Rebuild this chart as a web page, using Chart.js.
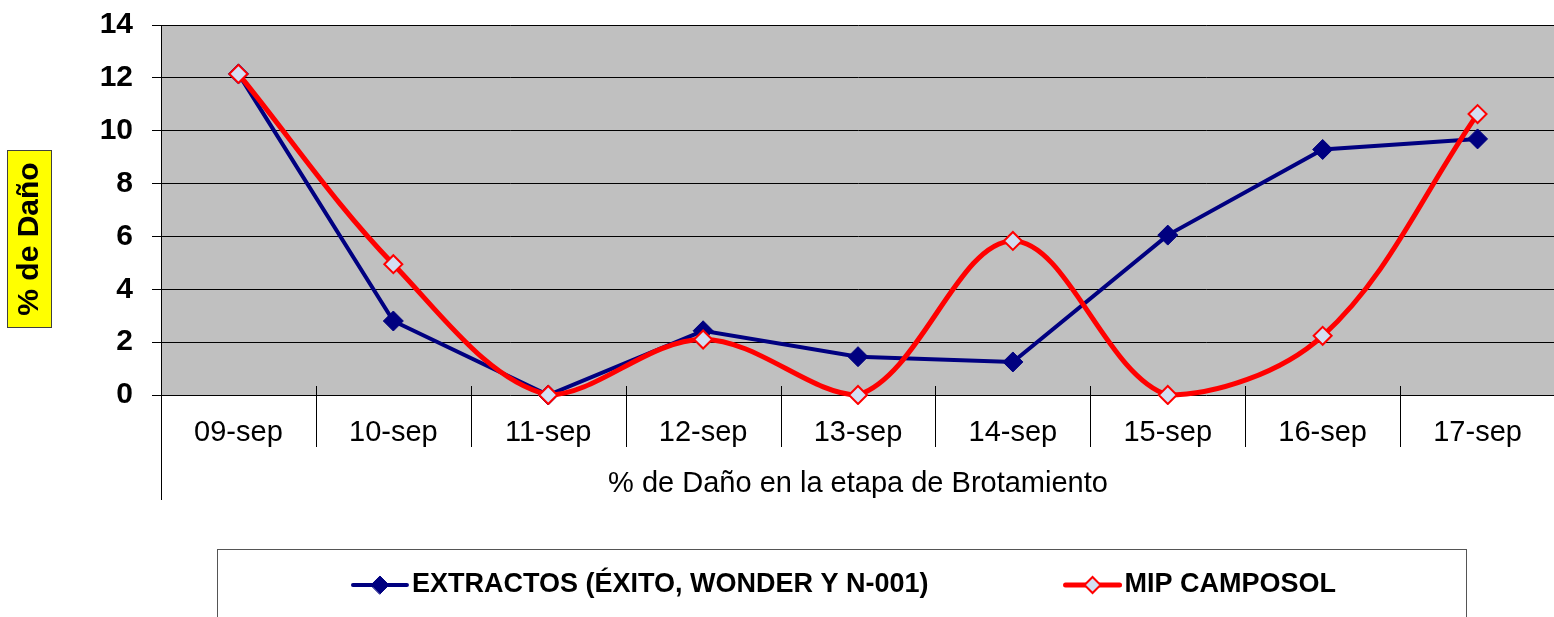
<!DOCTYPE html>
<html>
<head>
<meta charset="utf-8">
<script src="https://cdn.jsdelivr.net/npm/chart.js@4.4.1/dist/chart.umd.min.js"></script>
<style>
  html, body { margin: 0; padding: 0; background: #fff; overflow: hidden; }
  #wrap { width: 1566px; height: 617px; }
</style>
</head>
<body>
<div id="wrap"><canvas id="grafico-dano" width="1566" height="617"></canvas></div>
<script>
// datos
const categorias = ['09-sep', '10-sep', '11-sep', '12-sep', '13-sep', '14-sep', '15-sep', '16-sep', '17-sep'];
const extractos = [12.15, 2.8, 0, 2.43, 1.45, 1.25, 6.05, 9.29, 9.69];
const mipCamposol = [12.15, 4.95, 0, 2.1, 0, 5.83, 0, 2.24, 10.63];
const nombreSerieA = 'EXTRACTOS (ÉXITO, WONDER Y N-001)';
const nombreSerieB = 'MIP CAMPOSOL';
const tituloY = '% de Daño';
const tituloX = '% de Daño en la etapa de Brotamiento';
const ticksY = [0, 2, 4, 6, 8, 10, 12, 14];

const FUENTE = '"Liberation Sans", Arial, sans-serif';
Chart.defaults.font.family = FUENTE;
Chart.defaults.color = '#000';

// fondo gris del área del gráfico
const fondoPlot = {
  id: 'fondoPlot',
  beforeDraw(chart) {
    const { ctx, chartArea: a } = chart;
    ctx.save();
    ctx.fillStyle = '#C0C0C0';
    ctx.fillRect(a.left, a.top, a.right - a.left, a.bottom - a.top);
    ctx.restore();
  }
};

// separadores entre categorías (eje de dos niveles)
const separadores = {
  id: 'separadores',
  beforeDatasetsDraw(chart) {
    const { ctx, chartArea: a } = chart;
    const x = chart.scales.x;
    const mitad = (x.getPixelForValue(1) - x.getPixelForValue(0)) / 2;
    ctx.save();
    ctx.strokeStyle = '#000';
    ctx.lineWidth = 1;
    ctx.beginPath();
    categorias.forEach((c, i) => {
      const px = Math.round(x.getPixelForValue(i) + mitad) + 0.5;
      ctx.moveTo(px, a.bottom - 9);
      ctx.lineTo(px, a.bottom + 52);
    });
    const lx = Math.round(a.left) + 0.5;
    ctx.moveTo(lx, a.bottom);
    ctx.lineTo(lx, a.bottom + 105);
    ctx.stroke();
    ctx.restore();
  }
};

// título del eje Y con recuadro amarillo
const tituloEjeY = {
  id: 'tituloEjeY',
  afterDraw(chart) {
    const ctx = chart.ctx;
    ctx.save();
    ctx.fillStyle = '#FFFF00';
    ctx.fillRect(7, 150, 44, 177);
    ctx.strokeStyle = '#404040';
    ctx.lineWidth = 1;
    ctx.strokeRect(7.5, 150.5, 44, 177);
    ctx.translate(30, 239);
    ctx.rotate(-Math.PI / 2);
    ctx.font = 'bold 30px ' + FUENTE;
    ctx.fillStyle = '#000';
    ctx.textAlign = 'center';
    ctx.textBaseline = 'middle';
    ctx.fillText(tituloY, 0, 0);
    ctx.restore();
  }
};

// leyenda con recuadro, dibujada a mano
const leyenda = {
  id: 'leyenda',
  afterDraw(chart) {
    const ctx = chart.ctx;
    const caja = { left: 217, top: 549, right: 1466, bottom: 640 };
    const cy = 585;
    const largoLinea = 54, sep = 5, hueco = 137;
    ctx.save();
    ctx.strokeStyle = '#555';
    ctx.lineWidth = 1;
    ctx.strokeRect(caja.left + 0.5, caja.top + 0.5, caja.right - caja.left, caja.bottom - caja.top);
    ctx.font = 'bold 27px ' + FUENTE;
    const items = chart.data.datasets.map(ds => ({ ds, w: ctx.measureText(ds.label).width }));
    const total = items.reduce((s, it) => s + largoLinea + sep + it.w, 0) + hueco * (items.length - 1);
    let x = (caja.left + caja.right) / 2 - total / 2 + 3;
    items.forEach(({ ds, w }) => {
      ctx.strokeStyle = ds.borderColor;
      ctx.lineWidth = ds.borderWidth;
      ctx.lineCap = 'round';
      ctx.beginPath();
      ctx.moveTo(x, cy);
      ctx.lineTo(x + largoLinea, cy);
      ctx.stroke();
      ctx.fillStyle = ds.pointBackgroundColor;
      ctx.strokeStyle = ds.pointBorderColor;
      ctx.lineWidth = ds.pointBorderWidth;
      Chart.helpers.drawPoint(ctx, {
        pointStyle: 'rectRot', radius: ds.pointRadius - 1, rotation: 0, borderWidth: ds.pointBorderWidth
      }, x + largoLinea / 2, cy);
      ctx.fillStyle = '#000';
      ctx.textAlign = 'left';
      ctx.textBaseline = 'middle';
      ctx.fillText(ds.label, x + largoLinea + sep, cy);
      x += largoLinea + sep + w + hueco;
    });
    ctx.restore();
  }
};

new Chart(document.getElementById('grafico-dano'), {
  type: 'line',
  data: {
    labels: categorias,
    datasets: [
      {
        label: nombreSerieA,
        data: extractos,
        borderColor: '#000080',
        backgroundColor: '#000080',
        borderWidth: 4,
        pointStyle: 'rectRot',
        pointRadius: 10,
        pointBackgroundColor: '#000080',
        pointBorderColor: '#000080',
        pointBorderWidth: 1,
        tension: 0,
        order: 1,
        clip: 10
      },
      {
        label: nombreSerieB,
        data: mipCamposol,
        borderColor: '#FF0000',
        backgroundColor: '#FF0000',
        borderWidth: 5,
        pointStyle: 'rectRot',
        pointRadius: 9,
        pointBackgroundColor: '#D3DEF2',
        pointBorderColor: '#FF0000',
        pointBorderWidth: 2,
        tension: 0.35,
        order: 0,
        clip: 10
      }
    ]
  },
  options: {
    responsive: false,
    animation: false,
    layout: { padding: { top: 25, left: 0, right: 0, bottom: 0 } },
    plugins: {
      legend: { display: false },
      tooltip: { enabled: false }
    },
    scales: {
      x: {
        offset: true,
        grid: { display: false, drawTicks: false },
        border: { display: false },
        ticks: {
          autoSkip: false,
          maxRotation: 0,
          padding: 21,
          font: { size: 29 }
        },
        title: {
          display: true,
          text: tituloX,
          font: { size: 29 },
          padding: { top: 0, bottom: 116 }
        },
        afterFit(scale) {
          scale.height = 222;
          scale.paddingLeft = 0;
          scale.paddingRight = 0;
        }
      },
      y: {
        min: 0,
        max: 14,
        grid: { color: '#000', lineWidth: 1, tickLength: 9, tickColor: '#000' },
        border: { color: '#000', width: 1 },
        afterBuildTicks(scale) { scale.ticks = ticksY.map(v => ({ value: v })); },
        ticks: {
          padding: 19,
          font: { size: 30, weight: 'bold' }
        },
        afterFit(scale) {
          scale.width = 161;
          scale.paddingTop = 0;
          scale.paddingBottom = 0;
        }
      }
    }
  },
  plugins: [fondoPlot, separadores, tituloEjeY, leyenda]
});
</script>
</body>
</html>
